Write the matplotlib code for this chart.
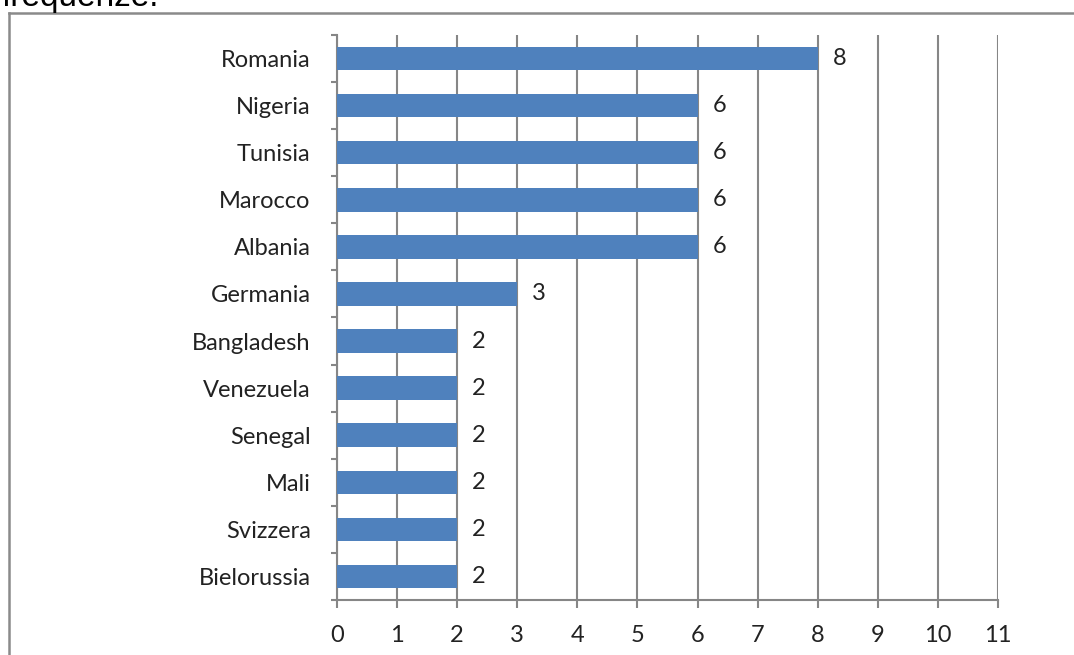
import matplotlib.pyplot as plt
from matplotlib.lines import Line2D

# Dati
paesi = ['Romania', 'Nigeria', 'Tunisia', 'Marocco', 'Albania', 'Germania',
         'Bangladesh', 'Venezuela', 'Senegal', 'Mali', 'Svizzera', 'Bielorussia']
frequenze = [8, 6, 6, 6, 6, 3, 2, 2, 2, 2, 2, 2]
x_ticks = list(range(0, 12))

W, H = 1074, 655
fig = plt.figure(figsize=(W / 100, H / 100), dpi=100)
ax = fig.add_axes([337 / W, 1 - 600 / H, (998 - 337) / W, (600 - 35) / H])

grid_col = '#868686'
bar_col = '#4F81BD'
font = 'Lato'
fs = 17

pos = list(range(len(paesi)))[::-1]
ax.barh(pos, frequenze, height=0.5, color=bar_col, zorder=3)
for p, v in zip(pos, frequenze):
    ax.text(v + 0.25, p, str(v), va='center', ha='left', fontsize=fs,
            family=font, color='#222222')

ax.set_xlim(0, 11)
ax.set_ylim(-0.5, len(paesi) - 0.5)
ax.set_xticks(x_ticks)
ax.set_xticklabels([str(t) for t in x_ticks], family=font, fontsize=fs, color='#222222')
ax.xaxis.grid(True, color=grid_col, linewidth=1.5, zorder=0)

# etichette categorie al centro, tacche ai confini
ax.set_yticks(pos)
ax.set_yticklabels(paesi, family=font, fontsize=fs, color='#222222')
ax.tick_params(axis='y', length=0, pad=19)
ax.set_yticks([i - 0.5 for i in range(len(paesi) + 1)], minor=True)
ax.tick_params(axis='y', which='minor', length=4.5, width=1.5, color=grid_col, direction='out')
ax.tick_params(axis='x', length=6, width=1.5, color=grid_col, pad=12)

for s in ['top', 'right']:
    ax.spines[s].set_visible(False)
for s in ['left', 'bottom']:
    ax.spines[s].set_color(grid_col)
    ax.spines[s].set_linewidth(1.5)

# cornice della pagina e testo tagliato in alto
fig.add_artist(Line2D([8.5 / W, 8.5 / W], [0, 1 - 12.5 / H], color='#8a8a8a', linewidth=1.8))
fig.add_artist(Line2D([8.5 / W, 1], [1 - 12.5 / H, 1 - 12.5 / H], color='#8a8a8a', linewidth=1.8))
fig.text(2 / W, 1 - 6 / H, 'frequenze.', family='Liberation Sans', fontsize=24,
         ha='left', va='baseline', color='black')

fig.savefig('out.png', dpi=100)
